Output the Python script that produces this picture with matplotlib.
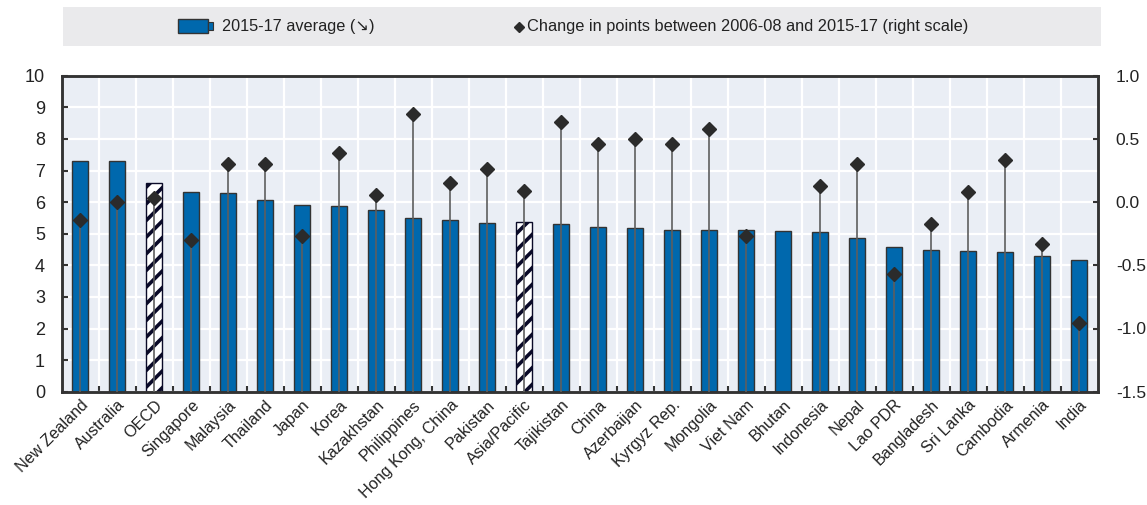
import matplotlib
matplotlib.use("Agg")
import matplotlib.pyplot as plt
from matplotlib.patches import Rectangle
from matplotlib.lines import Line2D
from matplotlib.ticker import FixedLocator, FuncFormatter
import numpy as np

plt.rcParams['font.family'] = ['Liberation Sans', 'DejaVu Sans']
plt.rcParams['axes.unicode_minus'] = False
plt.rcParams['hatch.linewidth'] = 2.6

countries = ['New Zealand', 'Australia', 'OECD', 'Singapore', 'Malaysia', 'Thailand',
             'Japan', 'Korea', 'Kazakhstan', 'Philippines', 'Hong Kong, China',
             'Pakistan', 'Asia/Pacific', 'Tajikistan', 'China', 'Azerbaijan',
             'Kyrgyz Rep.', 'Mongolia', 'Viet Nam', 'Bhutan', 'Indonesia', 'Nepal',
             'Lao PDR', 'Bangladesh', 'Sri Lanka', 'Cambodia', 'Armenia', 'India']

avg_2015_17 = [7.29, 7.29, 6.60, 6.32, 6.29, 6.06, 5.92, 5.89, 5.76, 5.49, 5.44,
               5.35, 5.36, 5.32, 5.22, 5.19, 5.12, 5.12, 5.12, 5.09, 5.06, 4.86,
               4.59, 4.49, 4.44, 4.43, 4.30, 4.16]

change = [-0.14, 0.00, 0.03, -0.30, 0.30, 0.30, -0.27, 0.39, 0.06, 0.70, 0.15,
          0.26, 0.09, 0.63, 0.46, 0.50, 0.46, 0.58, -0.27, np.nan, 0.13, 0.30,
          -0.57, -0.17, 0.08, 0.33, -0.33, -0.96]

aggregates = ['OECD', 'Asia/Pacific']

W, H = 1147, 505
fig = plt.figure(figsize=(W / 100, H / 100), dpi=100)
ax = fig.add_axes([61.7 / W, 1 - 391.7 / H, 1036 / W, 316 / H])
ax2 = ax.twinx()

blue = '#0068AD'
dark = '#2b2b2b'
txt = '#222222'

x = np.arange(len(countries))
for i, (c, v) in enumerate(zip(countries, avg_2015_17)):
    if c in aggregates:
        ax.bar(i, v, width=0.42, color='white', edgecolor='#0a0a28',
               hatch='//', linewidth=1.0, zorder=2)
    else:
        ax.bar(i, v, width=0.42, color=blue, edgecolor='#333333',
               linewidth=1.0, zorder=2)

ch = np.array(change, dtype=float)
ok = ~np.isnan(ch)
ax2.vlines(x[ok], -1.5, ch[ok], color='#5e5e5e', linewidth=1.2, zorder=3)
ax2.plot(x[ok], ch[ok], linestyle='none', marker='D', markersize=7.2,
         color=dark, zorder=4)

ax.set_xlim(-0.5, len(countries) - 0.5)
ax.set_ylim(0, 10)
ax2.set_ylim(-1.5, 1.0)

ax.set_facecolor('#EAEEF5')
ax.set_axisbelow(True)
ax.set_yticks(range(0, 11))
ax.set_xticks(x)
ax.set_xticklabels(countries, rotation=45, ha='right', rotation_mode='anchor',
                   fontsize=11.6, color=txt)
ax.xaxis.set_minor_locator(FixedLocator(np.arange(0.5, len(countries) - 1, 1.0)))
ax.tick_params(axis='x', which='major', length=0, pad=4)
ax.tick_params(axis='x', which='minor', direction='in', length=4, width=1.5,
               color='#333333')
ax.tick_params(axis='y', direction='in', length=4.5, width=1.5, color='#333333',
               labelsize=13, labelcolor=txt, pad=12)
ax.grid(True, axis='y', color='white', linewidth=1.6)
ax.grid(True, axis='x', which='minor', color='white', linewidth=1.6)

ax2.set_yticks([-1.5, -1.0, -0.5, 0.0, 0.5, 1.0])
ax2.yaxis.set_major_formatter(FuncFormatter(lambda v, p: f'{v:.1f}'))
ax2.tick_params(axis='y', direction='in', length=3.5, width=1.5, color='#333333',
                labelsize=12.5, labelcolor=txt, pad=13)

for a in (ax, ax2):
    for s in a.spines.values():
        s.set_color('#333333')
        s.set_linewidth(1.8)

# legend band
fig.add_artist(Rectangle((63 / W, 1 - 46 / H), 1038 / W, 39 / H,
                         transform=fig.transFigure, facecolor='#EAEAEC',
                         edgecolor='none'))
fig.add_artist(Rectangle((178 / W, 1 - 33 / H), 30 / W, 14 / H,
                         transform=fig.transFigure, facecolor=blue,
                         edgecolor='#333333', linewidth=1.0))
fig.add_artist(Rectangle((208 / W, 1 - 30 / H), 5 / W, 8 / H,
                         transform=fig.transFigure, facecolor=blue,
                         edgecolor='#333333', linewidth=0.8))
fig.text(222 / W, 1 - 26.5 / H, '2015-17 average (\u2198)', fontsize=11.7,
         color=txt, va='center', ha='left')
fig.add_artist(Line2D([519 / W], [1 - 26.5 / H], transform=fig.transFigure,
                      marker='D', markersize=4.8, color=dark, linestyle='none'))
fig.text(527 / W, 1 - 26.5 / H,
         'Change in points between 2006-08 and 2015-17 (right scale)',
         fontsize=11.8, color=txt, va='center', ha='left')

fig.savefig('out.png', dpi=100)
